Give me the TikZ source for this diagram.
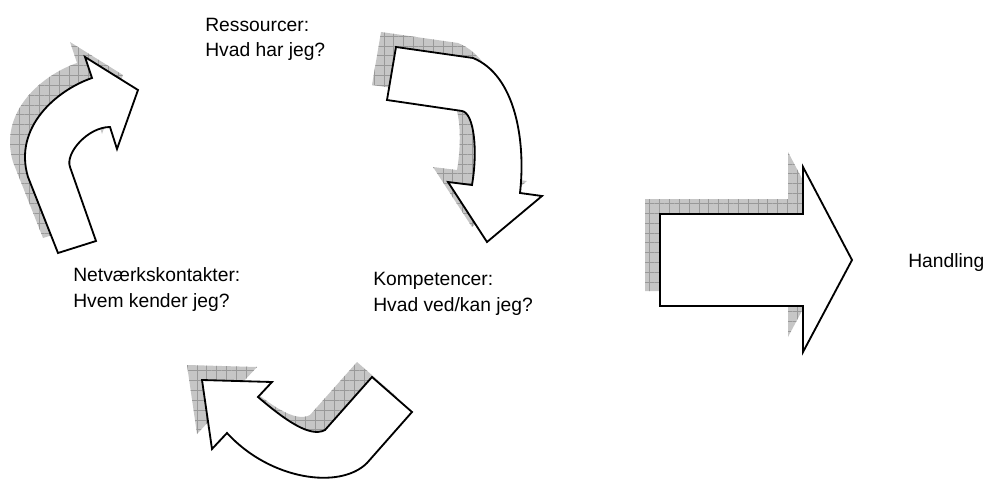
\documentclass[tikz,border=0pt]{standalone}
\usepackage{fontspec}
\setmainfont{Liberation Sans}
\usetikzlibrary{patterns.meta}
\tikzset{
  shadowshape/.style={preaction={fill=gray!45}, pattern={Hatch[angle=0,distance=7pt,line width=0.5pt]}, pattern color=gray!80, shift={(-15,-15)}},
  arrowshape/.style={draw=black, fill=white, line width=1.3pt, line join=miter},
  label/.style={anchor=base west, inner sep=0pt, align=left, font=\fontsize{13.7}{17.8}\selectfont}
}
\newcommand\pathBig{(660,214) -- (803,214) -- (803,167) -- (852,260) -- (803,352) -- (803,306) -- (660,306) -- cycle}
\newcommand\pathTL{(58,253) -- (96,241) -- (70,167) .. controls (65,153) and (88,127) .. (110,127) -- (117,149) -- (138,90) -- (85,57) -- (92,78) .. controls (57,90) and (13,127) .. (28,177) -- cycle}
\newcommand\pathTR{(396,47) -- (387,100) -- (462,111) .. controls (474,113) and (478,150) .. (472,185) -- (448,182) -- (487,242) -- (542,196) -- (520,193) .. controls (526,140) and (515,75) .. (473,58) -- cycle}
\newcommand\pathBot{(202,380) -- (272,382) -- (258,397) .. controls (285,420) and (310,438) .. (325,430) -- (372,377) -- (412,412) -- (367,463) .. controls (340,490) and (270,480) .. (227,433) -- (212,449) -- cycle}
\begin{document}
\begin{tikzpicture}[x=0.025cm, y=-0.025cm]
\useasboundingbox (0,0) rectangle (1004,479);
% shadows
\path[shadowshape] \pathTL;
\path[shadowshape] \pathTR;
\path[shadowshape] \pathBot;
\path[shadowshape] \pathBig;
% arrows
\draw[arrowshape] \pathTL;
\draw[arrowshape] \pathTR;
\draw[arrowshape] \pathBot;
\draw[arrowshape] \pathBig;
% labels (anchor at baseline of last line)
\node[label] (res) at (205,57) {Ressourcer:\\Hvad har jeg?};
\node[label] (net) at (73,307) {Netværkskontakter:\\Hvem kender jeg?};
\node[label] (komp) at (373,311) {Kompetencer:\\Hvad ved/kan jeg?};
\node[label] (hand) at (908,267) {Handling};
\end{tikzpicture}
\end{document}
